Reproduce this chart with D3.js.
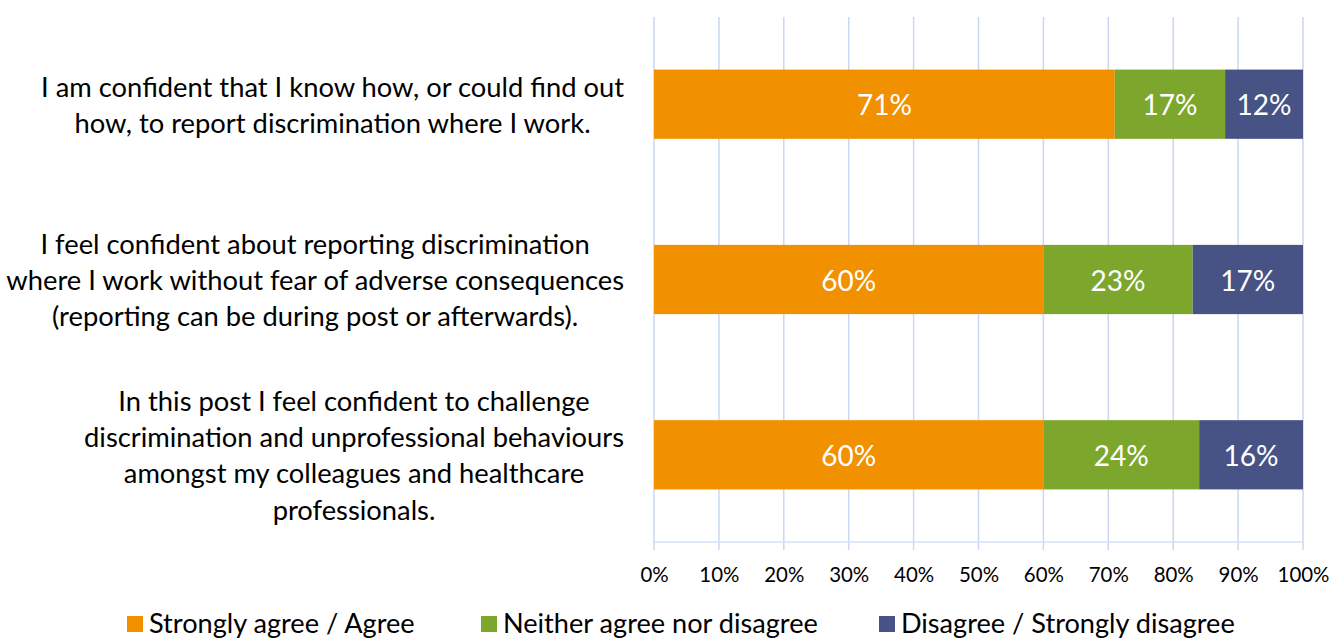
<!DOCTYPE html>
<html>
<head>
<meta charset="utf-8">
<script src="https://cdn.jsdelivr.net/npm/d3@7"></script>
<style>
  html, body { margin: 0; padding: 0; background: #ffffff; }
  svg { display: block; font-family: Lato, "Open Sans", sans-serif; }
</style>
</head>
<body>
<svg id="chart" width="1332" height="641"></svg>
<script>
// Survey statements, each wrapped into the lines shown beside its bar
const categories = [
  ["I am confident that I know how, or could find out",
   "how, to report discrimination where I work."],
  ["I feel confident about reporting discrimination",
   "where I work without fear of adverse consequences",
   "(reporting can be during post or afterwards)."],
  ["In this post I feel confident to challenge",
   "discrimination and unprofessional behaviours",
   "amongst my colleagues and healthcare",
   "professionals."]
];
const seriesNames = ["Strongly agree / Agree", "Neither agree nor disagree", "Disagree / Strongly disagree"];
const agree    = [71, 60, 60];
const neither  = [17, 23, 24];
const disagree = [12, 17, 16];
const tickValues = [0, 10, 20, 30, 40, 50, 60, 70, 80, 90, 100];
const colors = ["#F29100", "#7DA62D", "#485385"];

const svg = d3.select("#chart");
const plot = { left: 654, right: 1303, top: 17, bottom: 542 };

const x = d3.scaleLinear().domain([0, 100]).range([plot.left, plot.right]);
const y = d3.scaleBand().domain(d3.range(categories.length))
  .range([plot.top, plot.bottom]).paddingInner(0.605).paddingOuter(0.3);

// size a text style so a reference string spans the wanted width
function fitSize(sample, width) {
  const t = svg.append("text").attr("font-size", 20).text(sample);
  const w = t.node().getComputedTextLength();
  t.remove();
  return 20 * width / w;
}
const catSize = fitSize("where I work without fear of adverse consequences", 618);
const valSize = fitSize("71%", 55);
const tickSize = fitSize("100%", 52);
const legSize = fitSize("Disagree / Strongly disagree", 334);

// gridlines
svg.append("g").selectAll("line").data(tickValues).join("line")
  .attr("x1", d => x(d)).attr("x2", d => x(d))
  .attr("y1", plot.top).attr("y2", plot.bottom + 8)
  .attr("stroke", "#CAD6F2").attr("stroke-width", 1.5);

// bottom axis line
svg.append("line")
  .attr("x1", plot.left).attr("x2", plot.right)
  .attr("y1", plot.bottom).attr("y2", plot.bottom)
  .attr("stroke", "#D5E2F6").attr("stroke-width", 1.5);

// tick labels
const axis = d3.axisBottom(x).tickValues(tickValues).tickFormat(d => d + "%").tickSize(0).tickPadding(0);
const axG = svg.append("g").attr("transform", `translate(0,${plot.bottom + 33})`).call(axis);
axG.select(".domain").remove();
axG.selectAll("text").attr("font-size", tickSize).attr("fill", "#000")
  .attr("font-family", "Lato, 'Open Sans', sans-serif").attr("dy", "0.35em").attr("y", 0);

// stacked bars
const rows = categories.map((c, i) => ({ i, values: [agree[i], neither[i], disagree[i]] }));
const stackData = rows.map(r => {
  let acc = 0;
  return r.values.map((v, k) => { const s = { i: r.i, k, v, x0: acc, x1: acc + v }; acc += v; return s; });
}).flat();

svg.append("g").selectAll("rect").data(stackData).join("rect")
  .attr("x", d => x(d.x0)).attr("width", d => x(d.x1) - x(d.x0))
  .attr("y", d => y(d.i)).attr("height", y.bandwidth())
  .attr("fill", d => colors[d.k]);

svg.append("g").selectAll("text").data(stackData).join("text")
  .attr("x", d => (x(d.x0) + x(d.x1)) / 2)
  .attr("y", d => y(d.i) + y.bandwidth() / 2)
  .attr("text-anchor", "middle").attr("dominant-baseline", "central")
  .attr("font-size", valSize).attr("fill", "#ffffff")
  .text(d => d.v + "%");

// category labels: centred lines in a block whose right edge sits near the axis
const labelRight = 624;
const lineGap = 36.3;
categories.forEach((lines, i) => {
  const g = svg.append("g");
  const texts = lines.map(l => g.append("text").attr("font-size", catSize).attr("fill", "#000").text(l));
  const maxW = d3.max(texts, t => t.node().getComputedTextLength());
  const cx = labelRight - maxW / 2;
  const cy = y(i) + y.bandwidth() / 2;
  texts.forEach((t, j) => {
    t.attr("x", cx).attr("text-anchor", "middle").attr("dominant-baseline", "central")
     .attr("y", cy + (j - (lines.length - 1) / 2) * lineGap);
  });
});

// legend
const legendX = [127, 481, 879];
const legY = 622;
const leg = svg.append("g");
seriesNames.forEach((name, k) => {
  leg.append("rect").attr("x", legendX[k]).attr("y", legY - 6).attr("width", 16).attr("height", 16)
    .attr("fill", colors[k]);
  leg.append("text").attr("x", legendX[k] + 22).attr("y", legY)
    .attr("dominant-baseline", "central").attr("font-size", legSize).attr("fill", "#000")
    .text(name);
});
</script>
</body>
</html>
